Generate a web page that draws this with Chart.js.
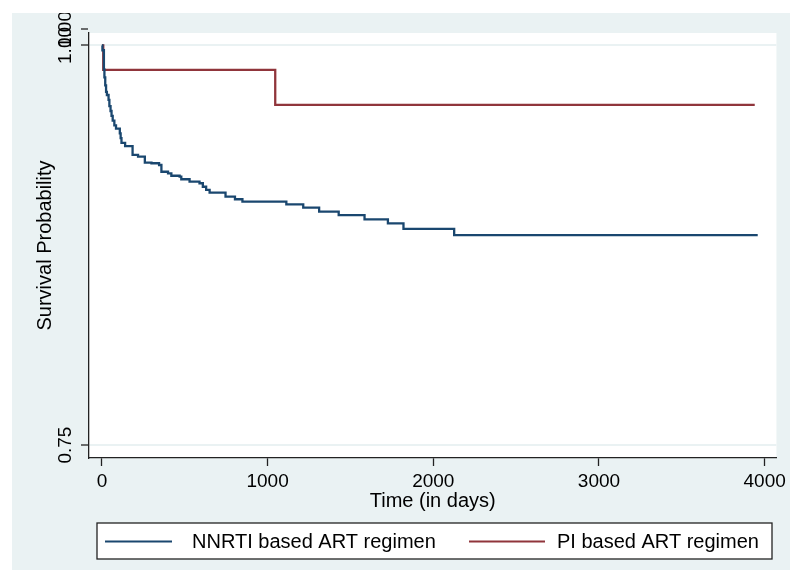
<!DOCTYPE html>
<html lang="en">
<head>
    <meta charset="UTF-8">
    <title>Kaplan-Meier survival by ART regimen</title>
    <style>
        body, html {
            margin: 0;
            background: #ffffff;
            font-family: "Liberation Sans", Arial, sans-serif;
        }
        /* grey Stata-style graph region */
        .graph {
            position: absolute;
            left: 12px;
            top: 13px;
            width: 778px;
            height: 557px;
            background: #eaf2f3;
        }
    </style>
    <script src="https://cdn.jsdelivr.net/npm/chart.js"></script>
</head>
<body>
    <div class="graph">
        <canvas id="kmChart" width="778" height="557"></canvas>
    </div>

    <script>
        // Kaplan-Meier estimates (time in days, survival probability)
        const nnrtiDays = [0, 3, 12, 15, 20, 25, 30, 40, 45, 52, 58, 65, 75, 85, 108, 113, 118, 140, 185, 218, 259, 299, 345, 359, 399, 419, 469, 479, 529, 589, 609, 629, 650, 746, 803, 848, 1113, 1215, 1311, 1429, 1585, 1726, 1820, 2126, 3958];
        const nnrtiSurv = [1.000, 0.997, 0.985, 0.980, 0.975, 0.971, 0.969, 0.966, 0.962, 0.959, 0.956, 0.953, 0.950, 0.948, 0.945, 0.942, 0.939, 0.937, 0.9315, 0.9304, 0.9267, 0.9263, 0.9252, 0.921, 0.920, 0.9185, 0.9179, 0.9163, 0.9148, 0.9138, 0.9116, 0.9096, 0.9079, 0.9054, 0.9038, 0.9023, 0.9006, 0.8986, 0.8961, 0.8938, 0.8912, 0.8887, 0.8852, 0.8813, 0.8813];
        const piDays = [0, 8, 1046, 3940];
        const piSurv = [1.000, 0.9847, 0.9628, 0.9628];

        const seriesLabels = ['NNRTI based ART regimen', 'PI based ART regimen'];
        const seriesColors = ['#1a476f', '#90353b'];

        const xTicks = [0, 1000, 2000, 3000, 4000];
        const yTicks = [0.75, 1.0, 1.01];
        const yTickLabels = ['0.75', '1.00', '1.00'];

        const toPoints = (xs, ys) => xs.map((x, i) => ({ x: x, y: ys[i] }));

        // white plot region behind the curves
        const plotBackground = {
            id: 'plotBackground',
            beforeDraw(chart) {
                const { ctx, chartArea } = chart;
                ctx.save();
                ctx.fillStyle = '#ffffff';
                ctx.fillRect(chartArea.left, chartArea.top, chartArea.right - chartArea.left, chartArea.bottom - chartArea.top);
                ctx.restore();
            }
        };

        // rotated y tick labels, like Stata draws them
        const yLabels = {
            id: 'yLabels',
            afterDraw(chart) {
                const ctx = chart.ctx;
                const y = chart.scales.y;
                ctx.save();
                ctx.fillStyle = '#000';
                ctx.font = '19px "Liberation Sans", Arial, sans-serif';
                ctx.textAlign = 'center';
                ctx.textBaseline = 'middle';
                yTicks.forEach((v, i) => {
                    ctx.save();
                    ctx.translate(54, y.getPixelForValue(v));
                    ctx.rotate(-Math.PI / 2);
                    ctx.fillText(yTickLabels[i], 0, 0);
                    ctx.restore();
                });
                ctx.restore();
            }
        };

        // boxed legend under the axis
        const boxLegend = {
            id: 'boxLegend',
            afterDraw(chart) {
                const ctx = chart.ctx;
                ctx.save();
                ctx.fillStyle = '#ffffff';
                ctx.fillRect(85, 510, 675, 36);
                ctx.strokeStyle = '#222';
                ctx.lineWidth = 1.3;
                ctx.strokeRect(85, 510, 675, 36);
                ctx.font = '20px "Liberation Sans", Arial, sans-serif';
                ctx.textBaseline = 'middle';
                ctx.fillStyle = '#000';
                const items = [[93, 160, 180], [457, 533, 545]];
                chart.data.datasets.forEach((ds, i) => {
                    ctx.strokeStyle = ds.borderColor;
                    ctx.lineWidth = 2;
                    ctx.beginPath();
                    ctx.moveTo(items[i][0], 528.5);
                    ctx.lineTo(items[i][1], 528.5);
                    ctx.stroke();
                    ctx.fillText(ds.label, items[i][2], 529);
                });
                ctx.restore();
            }
        };

        const ctx = document.getElementById('kmChart').getContext('2d');
        new Chart(ctx, {
            type: 'line',
            data: {
                datasets: [
                    {
                        label: seriesLabels[0],
                        data: toPoints(nnrtiDays, nnrtiSurv),
                        borderColor: seriesColors[0],
                        borderWidth: 2.3,
                        stepped: true,
                        pointRadius: 0
                    },
                    {
                        label: seriesLabels[1],
                        data: toPoints(piDays, piSurv),
                        borderColor: seriesColors[1],
                        borderWidth: 2.3,
                        stepped: true,
                        pointRadius: 0
                    }
                ]
            },
            options: {
                responsive: false,
                animation: false,
                layout: {
                    padding: { top: 20, right: 11, bottom: 57, left: 0 }
                },
                plugins: {
                    legend: { display: false },
                    tooltip: { enabled: false }
                },
                scales: {
                    x: {
                        type: 'linear',
                        min: -78,
                        max: 4071,
                        afterBuildTicks: (scale) => { scale.ticks = xTicks.map(v => ({ value: v })); },
                        afterFit: (scale) => { scale.height = 55; },
                        grid: {
                            drawOnChartArea: false,
                            tickLength: 8,
                            tickColor: '#222',
                            tickWidth: 1.3
                        },
                        border: { display: true, color: '#222', width: 1.3 },
                        ticks: {
                            color: '#000',
                            padding: 4,
                            maxRotation: 0,
                            callback: (v) => String(v),
                            font: { family: '"Liberation Sans", Arial, sans-serif', size: 19 }
                        },
                        title: {
                            display: true,
                            text: 'Time (in days)',
                            color: '#000',
                            padding: { top: 1, bottom: 0 },
                            font: { family: '"Liberation Sans", Arial, sans-serif', size: 20 }
                        }
                    },
                    y: {
                        type: 'linear',
                        min: 0.7419,
                        max: 1.0078,
                        afterBuildTicks: (scale) => { scale.ticks = yTicks.map(v => ({ value: v })); },
                        afterFit: (scale) => { scale.width = 77; },
                        grid: {
                            color: '#eaf2f3',
                            lineWidth: 2,
                            tickLength: 8,
                            tickColor: '#222',
                            tickWidth: 1.3
                        },
                        border: { display: true, color: '#222', width: 1.3 },
                        ticks: { display: false },
                        title: {
                            display: true,
                            text: 'Survival Probability',
                            color: '#000',
                            padding: { top: 21, bottom: 0 },
                            font: { family: '"Liberation Sans", Arial, sans-serif', size: 20 }
                        }
                    }
                }
            },
            plugins: [plotBackground, yLabels, boxLegend]
        });
    </script>
</body>
</html>
